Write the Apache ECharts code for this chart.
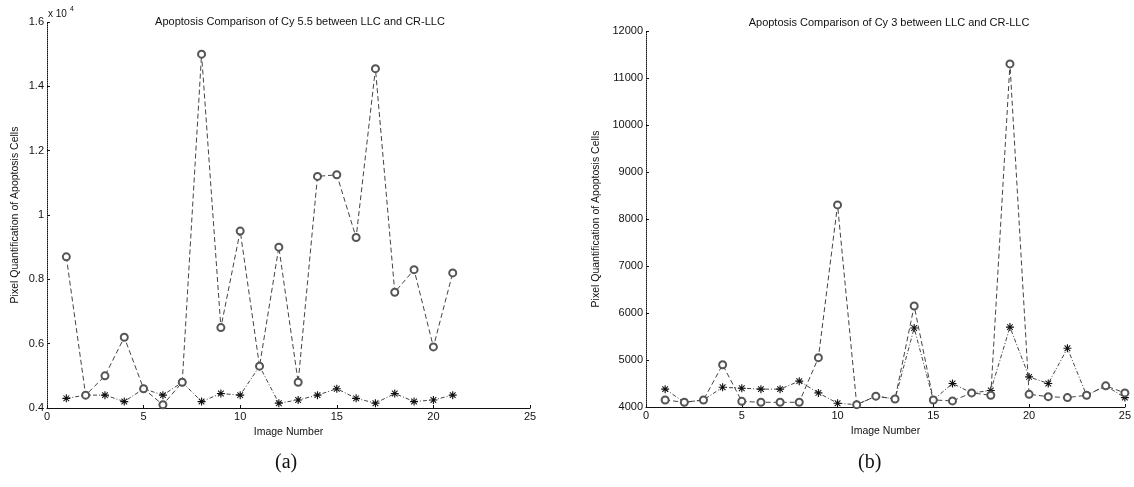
<!DOCTYPE html>
<html>
<head>
    <meta http-equiv="Content-Type" content="text/html; charset=UTF-8">
    <title>Apoptosis Comparison</title>
    <script type="text/javascript" src="https://cdn.jsdelivr.net/npm/echarts@6/dist/echarts.min.js"></script>
    <style>
        html, body {margin: 0; padding: 0; background: #fff;}
    </style>
</head>
<body>
    <div id="main" style="width: 1134px;height:487px;"></div>

    <script type="text/javascript">

    // image numbers
    var imgA = [1, 2, 3, 4, 5, 6, 7, 8, 9, 10, 11, 12, 13, 14, 15, 16, 17, 18, 19, 20, 21];
    var imgB = [1, 2, 3, 4, 5, 6, 7, 8, 9, 10, 11, 12, 13, 14, 15, 16, 17, 18, 19, 20, 21, 22, 23, 24, 25];

    // (a) Cy 5.5, values x 10^4
    var cy55Circle = [0.87, 0.44, 0.50, 0.62, 0.46, 0.41, 0.48, 1.50, 0.65, 0.95, 0.53, 0.90, 0.48, 1.12, 1.125, 0.93, 1.455, 0.76, 0.83, 0.59, 0.82];
    var cy55Star = [0.43, 0.44, 0.44, 0.42, 0.46, 0.44, 0.48, 0.42, 0.445, 0.44, 0.53, 0.415, 0.425, 0.44, 0.46, 0.43, 0.415, 0.445, 0.42, 0.425, 0.44];

    // (b) Cy 3
    var cy3Circle = [4150, 4100, 4150, 4900, 4120, 4100, 4100, 4100, 5050, 8300, 4050, 4230, 4170, 6150, 4150, 4130, 4300, 4250, 11300, 4270, 4220, 4200, 4250, 4450, 4300];
    var cy3Star = [4380, 4100, 4150, 4420, 4400, 4380, 4380, 4550, 4300, 4080, 4050, 4230, 4170, 5680, 4150, 4500, 4300, 4350, 5700, 4640, 4500, 5250, 4250, 4450, 4200];

    var font = 'Liberation Sans, Arial, sans-serif';
    var ink = '#111';
    var lineCol = '#444';

    // asterisk marker (MATLAB '*')
    var starPath = 'path://M4.3 0L5.7 0L5.7 10L4.3 10Z M0 4.3L10 4.3L10 5.7L0 5.7Z M1 1.9L1.9 1L9 8.1L8.1 9Z M8.1 1L9 1.9L1.9 9L1 8.1Z';

    function pairs(xs, ys) {
        return xs.map(function (x, i) { return [x, ys[i]]; });
    }

    function xAxisFor(idx) {
        return {
            type: 'value',
            gridIndex: idx,
            min: 0, max: 25, interval: 5,
            name: 'Image Number',
            nameLocation: 'middle',
            nameGap: 16,
            nameTextStyle: {fontFamily: font, fontSize: 10.5, color: ink},
            axisLine: {onZero: false, lineStyle: {color: ink, width: 1.2}},
            axisTick: {inside: true, length: 3, lineStyle: {color: ink}},
            axisLabel: {fontFamily: font, fontSize: 11, color: ink, margin: 3},
            splitLine: {show: false}
        };
    }

    function yAxisFor(idx, mn, mx, step) {
        return {
            type: 'value',
            gridIndex: idx,
            min: mn, max: mx, interval: step,
            name: 'Pixel Quantification of Apoptosis Cells',
            nameLocation: 'middle',
            nameRotate: 90,
            nameGap: idx == 0 ? 26 : 44,
            nameTextStyle: {fontFamily: font, fontSize: 10.5, color: ink},
            axisLine: {show: true, lineStyle: {color: ink, type: [1, 1], width: 1}},
            axisTick: {show: true, inside: true, length: 3, lineStyle: {color: ink}},
            axisLabel: {
                fontFamily: font, fontSize: 11, color: ink, margin: 3,
                formatter: function (v) { return String(Math.round(v * 10) / 10); }
            },
            splitLine: {show: false}
        };
    }

    function circleSeries(idx, data) {
        return {
            type: 'line',
            xAxisIndex: idx, yAxisIndex: idx,
            data: data,
            symbol: 'emptyCircle',
            symbolSize: 7,
            showAllSymbol: true,
            itemStyle: {color: '#555', borderWidth: 0.9},
            lineStyle: {color: lineCol, width: 1, type: [5, 3]},
            z: 3,
            animation: false
        };
    }

    function starSeries(idx, data) {
        return {
            type: 'line',
            xAxisIndex: idx, yAxisIndex: idx,
            data: data,
            symbol: starPath,
            symbolSize: 8,
            showAllSymbol: true,
            itemStyle: {color: ink},
            lineStyle: {color: lineCol, width: 1, type: [4, 2, 1, 2]},
            z: 2,
            animation: false
        };
    }

    var option = {
        backgroundColor: '#fff',
        title: [
            {
                text: 'Apoptosis Comparison of Cy 5.5 between LLC and CR-LLC',
                left: 295, top: 11, textAlign: 'center',
                textStyle: {fontFamily: font, fontSize: 11, fontWeight: 'normal', color: ink}
            },
            {
                text: 'Apoptosis Comparison of Cy 3 between LLC and CR-LLC',
                left: 884, top: 12, textAlign: 'center',
                textStyle: {fontFamily: font, fontSize: 11, fontWeight: 'normal', color: ink}
            }
        ],
        grid: [
            {left: 47, top: 22, width: 483, height: 386},
            {left: 646, top: 31, width: 482, height: 376}
        ],
        xAxis: [xAxisFor(0), xAxisFor(1)],
        yAxis: [yAxisFor(0, 0.4, 1.6, 0.2), yAxisFor(1, 4000, 12000, 1000)],
        graphic: [
            {
                type: 'text', left: 48, top: 9,
                style: {
                    text: 'x 10',
                    fontFamily: font, fontSize: 10, fill: ink
                }
            },
            {
                type: 'text', left: 70, top: 6,
                style: {text: '4', fontFamily: font, fontSize: 7, fill: ink}
            },
            {
                type: 'text', left: 275, top: 453,
                style: {text: '(a)', fontFamily: 'Liberation Serif, Times New Roman, serif', fontSize: 20, fill: ink}
            },
            {
                type: 'text', left: 858, top: 453,
                style: {text: '(b)', fontFamily: 'Liberation Serif, Times New Roman, serif', fontSize: 20, fill: ink}
            }
        ],
        series: [
            circleSeries(0, pairs(imgA, cy55Circle)),
            starSeries(0, pairs(imgA, cy55Star)),
            circleSeries(1, pairs(imgB, cy3Circle)),
            starSeries(1, pairs(imgB, cy3Star))
        ]
    };

    var myChart = echarts.init(document.getElementById('main'));
    myChart.setOption(option);
    </script>
</body>
</html>
